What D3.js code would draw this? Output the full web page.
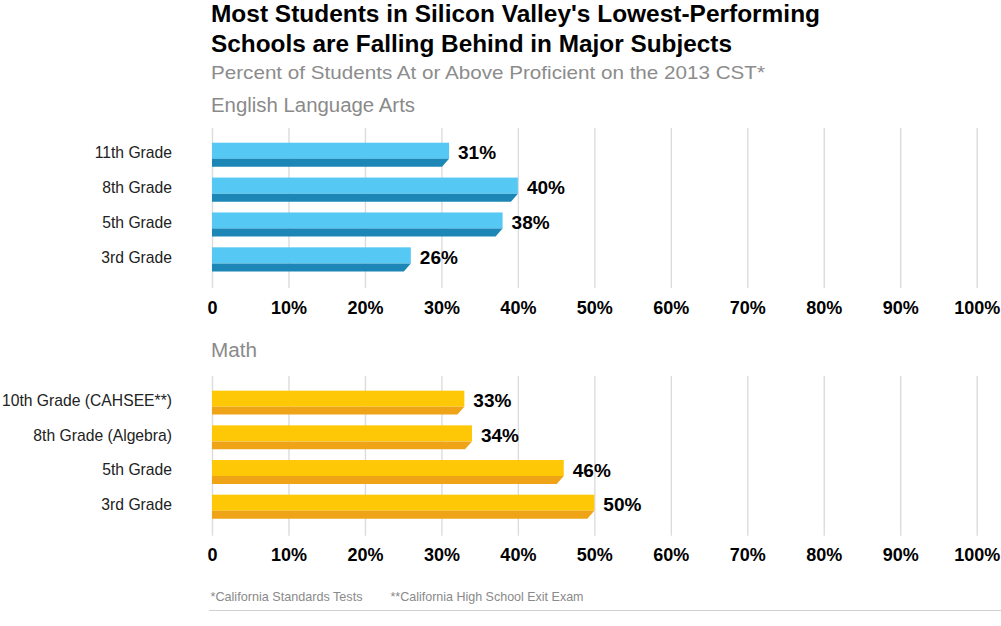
<!DOCTYPE html>
<html>
<head>
<meta charset="utf-8">
<script src="https://cdn.jsdelivr.net/npm/d3@7"></script>
<style>
  html, body { margin: 0; padding: 0; background: #fff; }
  svg { display: block; }
  text { font-family: "Liberation Sans", Arial, Helvetica, sans-serif; }
</style>
</head>
<body>
<svg id="chart" width="1001" height="626"></svg>
<script>
// ---- data ----
const titleLines = ["Most Students in Silicon Valley's Lowest-Performing", "Schools are Falling Behind in Major Subjects"];
const subtitle = "Percent of Students At or Above Proficient on the 2013 CST*";
const elaTitle = "English Language Arts";
const elaCategories = ["11th Grade", "8th Grade", "5th Grade", "3rd Grade"];
const elaValues = [31, 40, 38, 26];
const mathTitle = "Math";
const mathCategories = ["10th Grade (CAHSEE**)", "8th Grade (Algebra)", "5th Grade", "3rd Grade"];
const mathValues = [33, 34, 46, 50];
const tickValues = [0, 10, 20, 30, 40, 50, 60, 70, 80, 90, 100];
const footnotes = ["*California Standards Tests", "**California High School Exit Exam"];

// ---- layout ----
const svg = d3.select("#chart");
const x = d3.scaleLinear().domain([0, 100]).range([212, 976.7]);

// titles
const tl = [[211, 21.5, 609], [211, 51.5, 521]];
titleLines.forEach((t, i) => {
  svg.append("text").attr("x", tl[i][0]).attr("y", tl[i][1])
    .attr("font-size", 23.5).attr("font-weight", "bold").attr("fill", "#000")
    .attr("textLength", tl[i][2]).attr("lengthAdjust", "spacingAndGlyphs")
    .text(t);
});
svg.append("text").attr("x", 211).attr("y", 78.5)
  .attr("font-size", 19).attr("fill", "#8c8c8c")
  .attr("textLength", 554).attr("lengthAdjust", "spacingAndGlyphs")
  .text(subtitle);

function panel(cfg) {
  const g = svg.append("g");
  // section header
  g.append("text").attr("x", 211).attr("y", cfg.headerY)
    .attr("font-size", 19.5).attr("fill", "#8a8a8a")
    .attr("textLength", cfg.headerW).attr("lengthAdjust", "spacingAndGlyphs")
    .text(cfg.title);

  const y = d3.scaleBand().domain(cfg.categories)
    .range([cfg.r0, cfg.r1]).paddingInner(0.31).paddingOuter(0.155);

  // grid + tick labels via axis
  const axis = d3.axisBottom(x).tickValues(tickValues)
    .tickSize(-(cfg.gridBottom - cfg.gridTop)).tickPadding(13)
    .tickFormat(d => d === 0 ? "0" : d + "%");
  const ag = g.append("g").attr("transform", `translate(0,${cfg.gridBottom})`).call(axis);
  ag.select(".domain").remove();
  ag.selectAll(".tick line").attr("stroke", "#dcdcdc").attr("stroke-width", 1.4);
  ag.selectAll(".tick text").attr("fill", "#000").attr("font-size", 18)
    .attr("font-weight", "bold").attr("font-family", "Liberation Sans, Arial, sans-serif");

  const data = cfg.categories.map((c, i) => ({ c, v: cfg.values[i] }));
  const bw = y.bandwidth();
  const topH = bw * 0.67;

  // bar top (light)
  g.selectAll(".barTop").data(data).join("rect")
    .attr("x", x(0)).attr("y", d => y(d.c))
    .attr("width", d => x(d.v) - x(0)).attr("height", topH)
    .attr("fill", cfg.light);
  // bar bottom (dark, chamfered)
  g.selectAll(".barBot").data(data).join("path")
    .attr("d", d => {
      const y0 = y(d.c) + topH, y1 = y(d.c) + bw, xe = x(d.v);
      return `M${x(0)},${y0}L${xe},${y0}L${xe - 7},${y1}L${x(0)},${y1}Z`;
    })
    .attr("fill", cfg.dark);

  // value labels
  g.selectAll(".val").data(data).join("text")
    .attr("x", d => x(d.v) + 9).attr("y", d => y(d.c) + bw / 2 - 2)
    .attr("dy", "0.35em").attr("font-size", 19).attr("font-weight", "bold").attr("fill", "#000")
    .text(d => d.v + "%");

  // category labels
  g.selectAll(".cat").data(data).join("text")
    .attr("x", 172).attr("y", d => y(d.c) + bw / 2 - 2)
    .attr("dy", "0.35em").attr("text-anchor", "end")
    .attr("font-size", 15.7).attr("fill", "#222")
    .text(d => d.c);
}

panel({
  title: elaTitle, headerY: 111.5, headerW: 204,
  categories: elaCategories, values: elaValues,
  r0: 137.3, r1: 276.8, gridTop: 128, gridBottom: 288,
  light: "#55c8f4", dark: "#1c87b6"
});
panel({
  title: mathTitle, headerY: 357, headerW: 46,
  categories: mathCategories, values: mathValues,
  r0: 385.3, r1: 524, gridTop: 376, gridBottom: 535.7,
  light: "#ffc807", dark: "#efa418"
});

// footnotes
svg.append("text").attr("x", 210.5).attr("y", 601)
  .attr("font-size", 13).attr("fill", "#8a8a8a")
  .attr("textLength", 152).attr("lengthAdjust", "spacingAndGlyphs")
  .text(footnotes[0]);
svg.append("text").attr("x", 390.5).attr("y", 601)
  .attr("font-size", 13).attr("fill", "#8a8a8a")
  .attr("textLength", 193).attr("lengthAdjust", "spacingAndGlyphs")
  .text(footnotes[1]);
svg.append("line").attr("x1", 209).attr("x2", 1001).attr("y1", 610.5).attr("y2", 610.5)
  .attr("stroke", "#d0d0d0").attr("stroke-width", 1);
</script>
</body>
</html>
